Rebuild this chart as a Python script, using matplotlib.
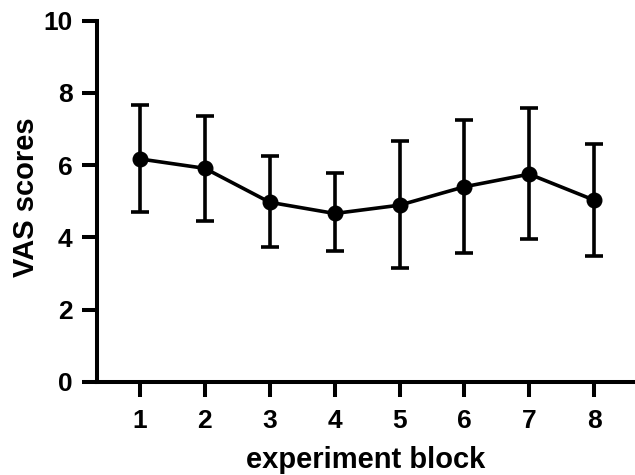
import matplotlib
matplotlib.use("Agg")
import matplotlib.pyplot as plt
import numpy as np

blocks = [1, 2, 3, 4, 5, 6, 7, 8]
means = [6.17, 5.91, 4.97, 4.66, 4.89, 5.40, 5.75, 5.03]
upper = [7.66, 7.36, 6.24, 5.77, 6.67, 7.25, 7.57, 6.58]
lower = [4.70, 4.46, 3.74, 3.62, 3.14, 3.57, 3.94, 3.49]
yticks = [0, 2, 4, 6, 8, 10]

plt.rcParams['font.family'] = ['Liberation Sans', 'DejaVu Sans']
plt.rcParams['font.weight'] = 'bold'

fig = plt.figure(figsize=(6.35, 4.75), dpi=100)
ax = fig.add_axes([0.1523, 0.1964, 0.8477, 0.76])

m = np.array(means)
yerr = [m - np.array(lower), np.array(upper) - m]
ax.errorbar(blocks, means, yerr=yerr, fmt='-o', color='black', lw=2.6,
            elinewidth=2.6, capsize=6.5, capthick=2.6, markersize=10.5, zorder=3)

ax.set_xlim(0.332, 8.63)
ax.set_ylim(0, 10)
ax.set_xticks(blocks)
ax.set_yticks(yticks)
ax.tick_params(axis='both', width=2.9, length=10.5, labelsize=19, color='black')
ax.tick_params(axis='y', pad=7)
ax.tick_params(axis='x', pad=9)
for lab in ax.get_xticklabels() + ax.get_yticklabels():
    lab.set_fontweight('bold')

for s in ['top', 'right']:
    ax.spines[s].set_visible(False)
for s in ['left', 'bottom']:
    ax.spines[s].set_linewidth(2.9)

ax.set_xlabel('experiment block', fontsize=21, fontweight='bold')
ax.set_ylabel('VAS scores', fontsize=21, fontweight='bold')
ax.xaxis.set_label_coords(0.5, -0.178)
ax.yaxis.set_label_coords(-0.105, 0.51)

fig.savefig('out.png', dpi=100)
